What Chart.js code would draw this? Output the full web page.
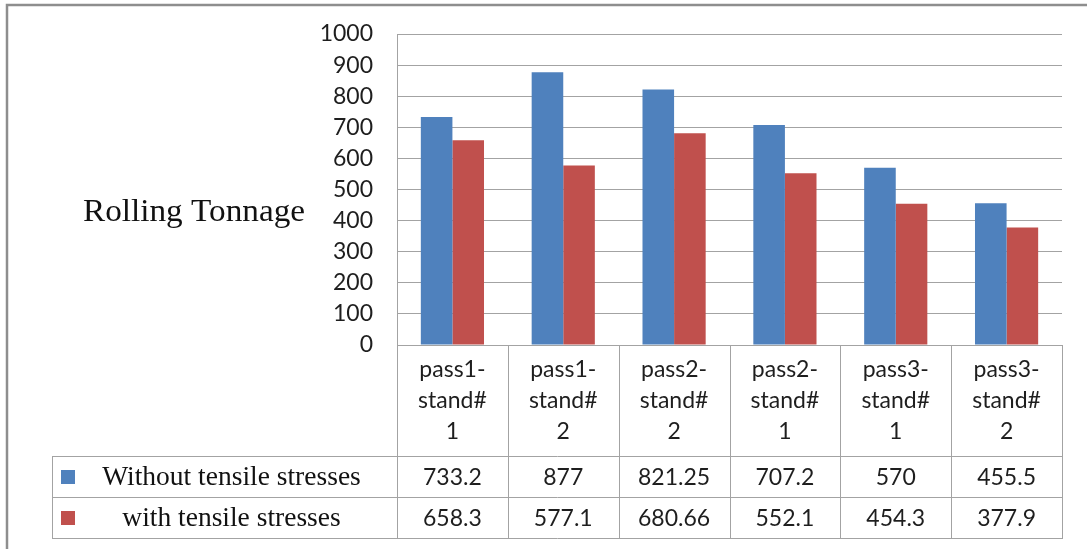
<!DOCTYPE html>
<html>
<head>
<meta charset="utf-8">
<script src="https://cdn.jsdelivr.net/npm/chart.js@4.4.0/dist/chart.umd.min.js"></script>
<style>
  html, body { margin: 0; padding: 0; background: #ffffff; }
  #wrap { width: 1087px; height: 549px; position: relative; }
</style>
</head>
<body>
<div id="wrap"><canvas id="c" width="1087" height="549"></canvas></div>
<script>
// ---- data ----
const categories = [
  ['pass1-', 'stand#', '1'],
  ['pass1-', 'stand#', '2'],
  ['pass2-', 'stand#', '2'],
  ['pass2-', 'stand#', '1'],
  ['pass3-', 'stand#', '1'],
  ['pass3-', 'stand#', '2']
];
const seriesNames = ['Without tensile stresses', 'with tensile stresses'];
const withoutTensile = [733.2, 877, 821.25, 707.2, 570, 455.5];
const withTensile = [658.3, 577.1, 680.66, 552.1, 454.3, 377.9];
const yTitle = 'Rolling Tonnage';
const yMin = 0, yMax = 1000, yStep = 100;

// ---- styles ----
const colors = ['#4F81BD', '#C0504D'];
const lineColor = '#a3a3a3';
const textColor = '#1e1e1e';
const numFont = '23px Lato';
const serifFont = '27.5px "Liberation Serif"';

const tablePlugin = {
  id: 'excelTable',
  afterDraw(chart) {
    const ctx = chart.ctx;
    const ca = chart.chartArea;
    const xs = chart.scales.x;
    const n = categories.length;
    const colW = (ca.right - ca.left) / n;
    const px = v => Math.round(v) + 0.5;

    const headerBottom = 456;
    const row1Bottom = 497;
    const row2Bottom = 538;
    const legendLeft = 52;

    ctx.save();
    // outer frame (cropped)
    ctx.strokeStyle = '#8e8e8e';
    ctx.lineWidth = 2.5;
    ctx.beginPath();
    ctx.moveTo(7, 549); ctx.lineTo(7, 5); ctx.lineTo(1087, 5);
    ctx.stroke();

    // table lines
    ctx.strokeStyle = lineColor;
    ctx.lineWidth = 1;
    ctx.beginPath();
    [headerBottom, row1Bottom, row2Bottom].forEach(y => {
      ctx.moveTo(legendLeft, px(y)); ctx.lineTo(ca.right + 1, px(y));
    });
    ctx.moveTo(ca.left, px(ca.bottom)); ctx.lineTo(ca.right + 1, px(ca.bottom));
    for (let i = 0; i <= n; i++) {
      const x = px(ca.left + i * colW);
      ctx.moveTo(x, ca.bottom); ctx.lineTo(x, row2Bottom + 0.5);
    }
    ctx.moveTo(px(legendLeft), headerBottom); ctx.lineTo(px(legendLeft), row2Bottom + 0.5);
    ctx.stroke();

    // category labels
    ctx.fillStyle = textColor;
    ctx.font = numFont;
    ctx.textAlign = 'center';
    ctx.textBaseline = 'middle';
    categories.forEach((lines, i) => {
      const cx = xs.getPixelForValue(i);
      lines.forEach((t, j) => {
        ctx.fillText(t, cx, ca.bottom + 25 + j * 31);
      });
    });

    // values
    const rows = [withoutTensile, withTensile];
    const rowCenters = [(headerBottom + row1Bottom) / 2, (row1Bottom + row2Bottom) / 2];
    rows.forEach((arr, r) => {
      arr.forEach((v, i) => {
        ctx.fillText(String(v), xs.getPixelForValue(i), rowCenters[r] + 1);
      });
    });

    // legend keys and names
    ctx.font = serifFont;
    rows.forEach((arr, r) => {
      ctx.fillStyle = colors[r];
      ctx.fillRect(61, Math.round(rowCenters[r]) - 7, 14, 14);
      ctx.fillStyle = '#111';
      ctx.fillText(seriesNames[r], 231.5, rowCenters[r] + 1);
    });

    // y title (horizontal, Excel style)
    ctx.font = '31px "Liberation Serif"';
    ctx.textAlign = 'left';
    ctx.textBaseline = 'alphabetic';
    const w = ctx.measureText(yTitle).width;
    const target = 222;
    ctx.translate(83, 220.5);
    ctx.scale(target / w, 1);
    ctx.fillText(yTitle, 0, 0);
    ctx.restore();
  }
};

new Chart(document.getElementById('c'), {
  type: 'bar',
  data: {
    labels: categories,
    datasets: [
      { label: seriesNames[0], data: withoutTensile, backgroundColor: colors[0], borderWidth: 0 },
      { label: seriesNames[1], data: withTensile, backgroundColor: colors[1], borderWidth: 0 }
    ]
  },
  options: {
    responsive: false,
    animation: false,
    devicePixelRatio: 1,
    layout: { padding: { left: 0, right: 25, top: 34, bottom: 204 } },
    datasets: { bar: { barPercentage: 1, categoryPercentage: 0.57 } },
    plugins: { legend: { display: false }, tooltip: { enabled: false }, title: { display: false } },
    scales: {
      x: { display: false, offset: true },
      y: {
        min: yMin, max: yMax,
        afterFit(scale) { scale.width = 397; },
        ticks: {
          stepSize: yStep, color: textColor, font: { family: 'Lato', size: 23 }, padding: 0,
          callback: v => String(v)
        },
        grid: { color: lineColor, lineWidth: 1, drawTicks: true, tickLength: 24, tickColor: 'rgba(0,0,0,0)' },
        border: { display: true, color: lineColor, width: 1 }
      }
    }
  },
  plugins: [tablePlugin]
});
</script>
</body>
</html>
